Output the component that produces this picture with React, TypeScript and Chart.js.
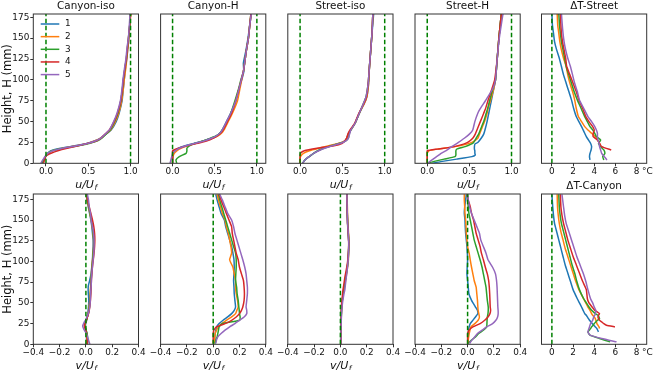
import React, { useEffect, useRef } from "react";
import { Chart, registerables } from "chart.js";

Chart.register(...registerables);

const FONT = '"DejaVu Sans", "Liberation Sans", sans-serif';
const SERIES = ["1", "2", "3", "4", "5"];
const COLORS = ["#1f77b4", "#ff7f0e", "#2ca02c", "#d62728", "#9467bd"];
const REF_COLOR = "#008000";

const Y_TICKS = [0, 25, 50, 75, 100, 125, 150, 175];
const U_TICKS = [0, 0.5, 1];
const V_TICKS = [-0.4, -0.2, 0, 0.2, 0.4];
const T_TICKS = [0, 2, 4, 6, 8];

// ---------- Canyon-iso, u/Uf ----------
const H_CI_U = [0, 3, 6, 9, 12, 15, 18, 21, 24, 27, 30, 35, 40, 50, 60, 75, 90, 100, 115, 125, 140, 150, 165, 180];
const CI_U1 = [-0.04, -0.03, -0.015, 0.0, 0.02, 0.06, 0.17, 0.34, 0.49, 0.58, 0.64, 0.71, 0.77, 0.83, 0.865, 0.9, 0.915, 0.925, 0.94, 0.955, 0.97, 0.98, 0.99, 1.0];
const CI_U2 = [-0.04, -0.03, -0.015, 0.0, 0.03, 0.08, 0.2, 0.36, 0.5, 0.58, 0.64, 0.705, 0.765, 0.82, 0.86, 0.895, 0.915, 0.925, 0.945, 0.955, 0.97, 0.98, 0.99, 1.005];
const CI_U3 = [-0.05, -0.03, -0.015, 0.0, 0.02, 0.07, 0.2, 0.38, 0.52, 0.61, 0.66, 0.71, 0.76, 0.81, 0.85, 0.885, 0.905, 0.915, 0.935, 0.95, 0.965, 0.975, 0.99, 1.0];
const CI_U4 = [-0.03, -0.02, -0.01, 0.0, 0.06, 0.14, 0.25, 0.38, 0.5, 0.6, 0.65, 0.7, 0.75, 0.805, 0.845, 0.885, 0.905, 0.915, 0.935, 0.95, 0.965, 0.975, 0.99, 1.0];
const CI_U5 = [-0.06, -0.045, -0.025, -0.005, 0.02, 0.08, 0.2, 0.36, 0.5, 0.59, 0.645, 0.7, 0.75, 0.8, 0.84, 0.88, 0.9, 0.91, 0.93, 0.945, 0.96, 0.975, 0.985, 0.995];

// ---------- Canyon-H, u/Uf ----------
const H_CH_U = [0, 4, 8, 12, 15, 18, 21, 24, 27, 30, 33, 36, 40, 50, 60, 75, 90, 100, 110, 120, 135, 150, 165, 180];
const CH_U1 = [0.0, 0.0, 0.005, 0.01, 0.03, 0.07, 0.15, 0.26, 0.37, 0.46, 0.52, 0.56, 0.59, 0.64, 0.69, 0.75, 0.79, 0.82, 0.845, 0.84, 0.87, 0.895, 0.915, 0.935];
const CH_U2 = [0.0, 0.0, 0.005, 0.02, 0.05, 0.1, 0.18, 0.28, 0.38, 0.47, 0.54, 0.58, 0.61, 0.66, 0.71, 0.77, 0.8, 0.82, 0.84, 0.855, 0.875, 0.9, 0.915, 0.935];
const CH_U3 = [0.05, 0.04, 0.08, 0.16, 0.17, 0.17, 0.2, 0.27, 0.37, 0.45, 0.52, 0.56, 0.59, 0.645, 0.69, 0.74, 0.785, 0.81, 0.84, 0.855, 0.875, 0.9, 0.915, 0.93];
const CH_U4 = [0.0, 0.0, 0.0, 0.0, 0.0, 0.07, 0.17, 0.3, 0.41, 0.48, 0.53, 0.57, 0.6, 0.65, 0.7, 0.75, 0.79, 0.815, 0.84, 0.855, 0.875, 0.9, 0.915, 0.93];
const CH_U5 = [-0.03, -0.02, -0.01, 0.0, 0.03, 0.08, 0.16, 0.27, 0.38, 0.46, 0.52, 0.56, 0.59, 0.64, 0.69, 0.75, 0.79, 0.815, 0.84, 0.855, 0.875, 0.9, 0.915, 0.935];

// ---------- Street-iso, u/Uf ----------
const H_SI_U = [0, 3, 6, 9, 12, 15, 18, 21, 24, 27, 30, 35, 40, 48, 60, 72, 80, 96, 116, 136, 156, 180];
const SI_U1 = [0.03, 0.05, 0.08, 0.12, 0.16, 0.21, 0.27, 0.36, 0.47, 0.53, 0.55, 0.57, 0.6, 0.65, 0.7, 0.76, 0.79, 0.81, 0.82, 0.835, 0.85, 0.87];
const SI_U2 = [0.0, 0.0, 0.0, 0.01, 0.04, 0.11, 0.22, 0.34, 0.46, 0.53, 0.55, 0.57, 0.6, 0.65, 0.7, 0.76, 0.79, 0.81, 0.82, 0.835, 0.85, 0.86];
const SI_U3 = [0.03, 0.05, 0.08, 0.12, 0.16, 0.21, 0.28, 0.37, 0.47, 0.54, 0.57, 0.58, 0.6, 0.65, 0.7, 0.75, 0.78, 0.805, 0.82, 0.835, 0.85, 0.86];
const SI_U4 = [0.0, 0.0, 0.0, 0.0, 0.005, 0.05, 0.2, 0.4, 0.5, 0.53, 0.55, 0.565, 0.59, 0.645, 0.695, 0.755, 0.785, 0.805, 0.82, 0.835, 0.85, 0.86];
const SI_U5 = [0.03, 0.05, 0.08, 0.12, 0.16, 0.22, 0.29, 0.38, 0.48, 0.54, 0.57, 0.585, 0.6, 0.65, 0.7, 0.75, 0.78, 0.805, 0.82, 0.835, 0.85, 0.86];

// ---------- Street-H, u/Uf ----------
const H_SH_U = [0, 2, 5, 8, 10, 12, 15, 17, 20, 23, 25, 30, 35, 40, 50, 60, 65, 75, 90, 100, 125, 150, 180];
const SH_U1 = [0.06, 0.16, 0.35, 0.53, 0.57, 0.565, 0.565, 0.56, 0.56, 0.565, 0.6, 0.64, 0.67, 0.685, 0.71, 0.73, 0.74, 0.76, 0.79, 0.81, 0.83, 0.85, 0.88];
const SH_U2 = [0.0, 0.0, 0.0, 0.0, 0.0, 0.0, 0.02, 0.12, 0.33, 0.47, 0.53, 0.6, 0.62, 0.64, 0.68, 0.71, 0.72, 0.75, 0.79, 0.81, 0.83, 0.85, 0.88];
const SH_U3 = [0.0, 0.07, 0.2, 0.33, 0.34, 0.34, 0.34, 0.35, 0.45, 0.52, 0.55, 0.58, 0.61, 0.63, 0.67, 0.7, 0.715, 0.74, 0.78, 0.81, 0.83, 0.85, 0.88];
const SH_U4 = [0.0, 0.0, 0.0, 0.0, 0.0, 0.0, 0.0, 0.12, 0.32, 0.43, 0.48, 0.54, 0.57, 0.59, 0.63, 0.67, 0.69, 0.72, 0.77, 0.8, 0.83, 0.85, 0.88];
const SH_U5 = [0.0, 0.03, 0.07, 0.11, 0.14, 0.165, 0.22, 0.25, 0.29, 0.34, 0.37, 0.44, 0.5, 0.54, 0.565, 0.6, 0.625, 0.69, 0.78, 0.81, 0.83, 0.855, 0.9];

// ---------- ΔT-Street (°C) ----------
const H_DT_S = [4, 8, 12, 16, 20, 24, 28, 32, 36, 40, 44, 50, 56, 66, 76, 86, 96, 106, 116, 126, 136, 146, 156, 166, 180];
const DTS_1 = [3.6, 3.55, 3.6, 3.7, 3.75, 3.65, 3.45, 3.25, 3.1, 2.95, 2.8, 2.55, 2.3, 2.05, 1.85, 1.6, 1.35, 1.1, 0.9, 0.7, 0.45, 0.25, 0.15, 0.05, 0.0];
const DTS_2 = [null, null, null, null, 4.6, 4.5, 4.3, 4.1, 3.75, 3.4, 3.1, 2.8, 2.5, 2.3, 2.15, 1.95, 1.7, 1.5, 1.35, 1.1, 0.9, 0.75, 0.65, 0.55, 0.5];
const DTS_3 = [4.9, 4.8, 5.0, 4.9, 4.6, 4.4, 4.6, 4.2, 4.05, 3.85, 3.6, 3.35, 3.1, 2.75, 2.4, 2.1, 1.85, 1.6, 1.35, 1.2, 1.05, 0.9, 0.8, 0.72, 0.65];
const DTS_4 = [null, null, null, 5.6, 4.7, 4.5, 4.3, 3.9, 3.9, 4.0, 3.85, 3.5, 3.2, 2.9, 2.55, 2.3, 2.0, 1.7, 1.4, 1.3, 1.15, 1.0, 0.9, 0.85, 0.8];
const DTS_5 = [5.2, 4.95, 4.7, 4.6, 4.5, 4.45, 4.35, 4.3, 4.3, 4.2, 4.05, 3.75, 3.4, 3.0, 2.6, 2.4, 2.15, 1.95, 1.75, 1.5, 1.3, 1.15, 1.05, 0.98, 0.9];

// ---------- Canyon-iso, v/Uf ----------
const H_CI_V = [0, 5, 10, 14, 18, 22, 26, 30, 38, 46, 54, 62, 70, 78, 86, 94, 102, 110, 118, 126, 134, 142, 150, 158, 166, 174, 182];
const CI_V1 = [0.005, 0.005, 0.005, 0.005, 0.0, -0.005, 0.0, 0.008, 0.015, 0.02, 0.022, 0.018, 0.018, 0.03, 0.04, 0.045, 0.05, 0.052, 0.055, 0.055, 0.05, 0.045, 0.038, 0.028, 0.018, 0.008, 0.003];
const CI_V2 = [0.008, 0.008, 0.006, 0.004, 0.0, -0.008, -0.003, 0.006, 0.018, 0.025, 0.03, 0.032, 0.036, 0.04, 0.042, 0.046, 0.05, 0.055, 0.058, 0.058, 0.054, 0.048, 0.04, 0.03, 0.02, 0.01, 0.005];
const CI_V3 = [0.012, 0.015, 0.012, 0.008, 0.0, -0.01, -0.005, 0.005, 0.02, 0.028, 0.032, 0.035, 0.038, 0.04, 0.043, 0.047, 0.052, 0.056, 0.06, 0.06, 0.055, 0.05, 0.042, 0.032, 0.022, 0.012, 0.006];
const CI_V4 = [0.01, 0.01, 0.008, 0.004, -0.004, -0.012, -0.006, 0.005, 0.022, 0.03, 0.035, 0.038, 0.04, 0.042, 0.046, 0.05, 0.056, 0.062, 0.066, 0.068, 0.066, 0.06, 0.05, 0.038, 0.025, 0.013, 0.006];
const CI_V5 = [0.03, 0.02, 0.01, 0.0, -0.015, -0.025, -0.015, 0.0, 0.02, 0.03, 0.034, 0.036, 0.04, 0.042, 0.045, 0.05, 0.055, 0.06, 0.062, 0.062, 0.058, 0.05, 0.04, 0.035, 0.025, 0.02, 0.01];

// ---------- Canyon-H, v/Uf ----------
const H_CH_V = [1, 5, 9, 13, 17, 21, 25, 29, 33, 37, 41, 45, 53, 61, 69, 77, 85, 93, 102, 110, 118, 126, 134, 142, 150, 158, 166, 174, 181];
const CH_V1 = [0.0125, 0.0125, 0.0125, 0.015, 0.02, 0.025, 0.045, 0.075, 0.11, 0.14, 0.16, 0.17, 0.165, 0.16, 0.158, 0.155, 0.158, 0.16, 0.158, 0.15, 0.14, 0.125, 0.11, 0.095, 0.085, 0.06, 0.045, 0.03, 0.02];
const CH_V2 = [0.008, 0.01, 0.012, 0.015, 0.025, 0.04, 0.065, 0.1, 0.14, 0.17, 0.18, 0.19, 0.185, 0.175, 0.17, 0.17, 0.16, 0.15, 0.125, 0.14, 0.135, 0.125, 0.115, 0.1, 0.09, 0.07, 0.055, 0.04, 0.03];
const CH_V3 = [0.0125, 0.02, 0.03, 0.035, 0.04, 0.045, 0.07, 0.2, 0.205, 0.2, 0.198, 0.195, 0.19, 0.182, 0.178, 0.17, 0.172, 0.175, 0.175, 0.17, 0.155, 0.14, 0.125, 0.11, 0.095, 0.08, 0.065, 0.05, 0.04];
const CH_V4 = [0.0, 0.0, 0.0, 0.0, 0.005, 0.025, 0.09, 0.14, 0.175, 0.2, 0.215, 0.225, 0.235, 0.2375, 0.235, 0.23, 0.215, 0.2, 0.19, 0.175, 0.165, 0.155, 0.145, 0.14, 0.12, 0.1, 0.08, 0.06, 0.045];
const CH_V5 = [0.02, 0.025, 0.035, 0.06, 0.09, 0.125, 0.165, 0.2, 0.235, 0.255, 0.255, 0.25, 0.255, 0.26, 0.26, 0.255, 0.25, 0.24, 0.225, 0.21, 0.195, 0.18, 0.165, 0.155, 0.14, 0.11, 0.09, 0.07, 0.05];

// ---------- Street-iso, v/Uf ----------
const H_SI_V = [0, 10, 20, 30, 40, 50, 60, 66, 72, 80, 90, 100, 110, 122, 134, 146, 160, 172, 182];
const SI_V1 = [0.003, 0.003, 0.004, 0.006, 0.008, 0.012, 0.02, 0.026, 0.033, 0.04, 0.05, 0.058, 0.062, 0.064, 0.06, 0.055, 0.052, 0.05, 0.05];
const SI_V2 = [0.005, 0.005, 0.005, 0.006, 0.009, 0.013, 0.021, 0.027, 0.034, 0.042, 0.052, 0.06, 0.063, 0.066, 0.062, 0.057, 0.054, 0.052, 0.052];
const SI_V3 = [0.002, 0.002, 0.003, 0.005, 0.008, 0.012, 0.02, 0.025, 0.032, 0.04, 0.05, 0.057, 0.061, 0.064, 0.06, 0.055, 0.052, 0.05, 0.05];
const SI_V4 = [0.005, 0.004, 0.004, 0.005, 0.006, 0.01, 0.016, 0.02, 0.026, 0.033, 0.045, 0.055, 0.06, 0.063, 0.059, 0.054, 0.051, 0.049, 0.049];
const SI_V5 = [0.004, 0.004, 0.005, 0.007, 0.01, 0.016, 0.026, 0.034, 0.038, 0.044, 0.052, 0.058, 0.062, 0.064, 0.06, 0.055, 0.052, 0.05, 0.05];

// ---------- Street-H, v/Uf ----------
const H_SH_V = [1, 5, 9, 13, 17, 21, 25, 29, 33, 37, 41, 45, 53, 61, 69, 77, 85, 93, 102, 110, 118, 126, 134, 142, 150, 158, 166, 174, 181];
const SH_V1 = [0.003, 0.004, 0.005, 0.006, 0.008, 0.012, 0.02, 0.04, 0.06, 0.078, 0.075, 0.06, 0.03, 0.01, 0.005, 0.0, -0.005, -0.003, 0.0, -0.002, -0.005, -0.01, -0.015, -0.018, -0.02, -0.025, -0.022, -0.015, -0.01];
const SH_V2 = [0.003, 0.005, 0.008, 0.012, 0.018, 0.025, 0.055, 0.08, 0.09, 0.085, 0.08, 0.078, 0.075, 0.07, 0.065, 0.05, 0.04, 0.03, 0.02, 0.012, 0.0, -0.005, -0.01, -0.012, -0.015, -0.02, -0.022, -0.025, -0.025];
const SH_V3 = [0.005, 0.03, 0.06, 0.085, 0.12, 0.145, 0.147, 0.148, 0.15, 0.155, 0.157, 0.157, 0.15, 0.145, 0.14, 0.13, 0.12, 0.11, 0.095, 0.08, 0.065, 0.05, 0.04, 0.03, 0.02, 0.01, 0.005, 0.0, 0.0];
const SH_V4 = [0.0, 0.0, 0.0, 0.0, 0.01, 0.04, 0.095, 0.13, 0.155, 0.17, 0.175, 0.172, 0.17, 0.168, 0.165, 0.16, 0.15, 0.135, 0.12, 0.105, 0.095, 0.08, 0.065, 0.055, 0.045, 0.03, 0.02, 0.005, -0.005];
const SH_V5 = [0.015, 0.0325, 0.055, 0.075, 0.11, 0.145, 0.19, 0.215, 0.228, 0.2325, 0.232, 0.23, 0.228, 0.226, 0.224, 0.22, 0.212, 0.19, 0.155, 0.14, 0.12, 0.1, 0.09, 0.07, 0.05, 0.03, 0.015, 0.005, 0.0];

// ---------- ΔT-Canyon (°C) ----------
const H_DT_C = [3, 7, 11, 15, 19, 21, 23, 25, 27, 29, 31, 33, 35, 37, 41, 45, 50, 55, 66, 76, 86, 96, 106, 116, 126, 136, 146, 156, 166, 181];
const DTC_1 = [null, null, null, 4.4, 4.25, 4.1, 3.95, 3.8, 3.7, 3.55, 3.45, 3.35, 3.25, 3.1, 2.95, 2.8, 2.6, 2.4, 2.0, 1.75, 1.5, 1.25, 1.05, 0.85, 0.65, 0.45, 0.25, 0.15, 0.08, 0.0];
const DTC_2 = [null, null, null, null, 4.5, 4.45, 4.35, 4.25, 4.2, 4.15, 4.1, 4.0, 3.85, 3.75, 3.6, 3.4, 3.2, 3.0, 2.55, 2.25, 2.0, 1.75, 1.5, 1.25, 1.05, 0.85, 0.7, 0.6, 0.53, 0.5];
const DTC_3 = [5.5, 4.5, 3.6, 3.4, 3.65, 3.75, 3.9, 4.0, 4.15, 4.3, 4.5, 4.45, 4.35, 4.1, 3.75, 3.5, 3.25, 3.0, 2.6, 2.35, 2.15, 1.9, 1.7, 1.5, 1.3, 1.1, 0.9, 0.78, 0.7, 0.65];
const DTC_4 = [null, null, null, null, null, 5.95, 5.15, 4.9, 4.7, 4.5, 4.4, 4.35, 4.4, 4.5, 4.05, 3.8, 3.5, 3.35, 3.25, 2.9, 2.6, 2.3, 2.0, 1.75, 1.5, 1.3, 1.1, 0.95, 0.85, 0.8];
const DTC_5 = [6.1, 4.7, 3.6, 3.4, 3.5, 3.55, 3.6, 3.65, 3.75, 3.85, 3.9, 3.95, 4.05, 4.1, 4.15, 4.0, 3.85, 3.65, 3.4, 3.2, 2.95, 2.65, 2.35, 2.1, 1.85, 1.6, 1.35, 1.2, 1.1, 0.95];

// ---------- layout ----------
const FRAME_LEFT = [33.3, 160.6, 287.8, 415.0, 541.5];
const FRAME_W = 105.2;
const CANVAS_LEFT = [0, 127, 255, 382, 508];
const CANVAS_W = [152, 152, 152, 152, 146];
const ROW_TOP = [0, 180];
const FRAME_TOP = [14, 194];
const FRAME_H = [149.3, 150.3];
const CANVAS_H = 190;
const Y_MAX = [179, 181.4];

const TICK_FS = 8.9;
const TITLE_FS = 10.4;
const YLABEL_FS = 11.5;
const XLABEL_FS = 11;

type PanelDef = {
  row: number;
  col: number;
  title: string;
  heights: number[];
  series: (number | null)[][];
  xRange: [number, number];
  xTicks: number[];
  fmt: "u" | "v" | "t";
  refs: number[];
  xVar?: string;
  unit?: boolean;
  legend?: boolean;
};

const PANELS: PanelDef[] = [
  { row: 0, col: 0, title: "Canyon-iso", heights: H_CI_U, series: [CI_U1, CI_U2, CI_U3, CI_U4, CI_U5], xRange: [-0.15, 1.094], xTicks: U_TICKS, fmt: "u", refs: [0, 1], xVar: "u", legend: true },
  { row: 0, col: 1, title: "Canyon-H", heights: H_CH_U, series: [CH_U1, CH_U2, CH_U3, CH_U4, CH_U5], xRange: [-0.142, 1.106], xTicks: U_TICKS, fmt: "u", refs: [0, 1], xVar: "u" },
  { row: 0, col: 2, title: "Street-iso", heights: H_SI_U, series: [SI_U1, SI_U2, SI_U3, SI_U4, SI_U5], xRange: [-0.145, 1.098], xTicks: U_TICKS, fmt: "u", refs: [0, 1], xVar: "u" },
  { row: 0, col: 3, title: "Street-H", heights: H_SH_U, series: [SH_U1, SH_U2, SH_U3, SH_U4, SH_U5], xRange: [-0.145, 1.103], xTicks: U_TICKS, fmt: "u", refs: [0, 1], xVar: "u" },
  { row: 0, col: 4, title: "ΔT-Street", heights: H_DT_S, series: [DTS_1, DTS_2, DTS_3, DTS_4, DTS_5], xRange: [-0.98, 8.95], xTicks: T_TICKS, fmt: "t", refs: [0], unit: true },
  { row: 1, col: 0, title: "", heights: H_CI_V, series: [CI_V1, CI_V2, CI_V3, CI_V4, CI_V5], xRange: [-0.4, 0.4], xTicks: V_TICKS, fmt: "v", refs: [0], xVar: "v" },
  { row: 1, col: 1, title: "", heights: H_CH_V, series: [CH_V1, CH_V2, CH_V3, CH_V4, CH_V5], xRange: [-0.4, 0.4], xTicks: V_TICKS, fmt: "v", refs: [0], xVar: "v" },
  { row: 1, col: 2, title: "", heights: H_SI_V, series: [SI_V1, SI_V2, SI_V3, SI_V4, SI_V5], xRange: [-0.4, 0.4], xTicks: V_TICKS, fmt: "v", refs: [0], xVar: "v" },
  { row: 1, col: 3, title: "", heights: H_SH_V, series: [SH_V1, SH_V2, SH_V3, SH_V4, SH_V5], xRange: [-0.4, 0.4], xTicks: V_TICKS, fmt: "v", refs: [0], xVar: "v" },
  { row: 1, col: 4, title: "ΔT-Canyon", heights: H_DT_C, series: [DTC_1, DTC_2, DTC_3, DTC_4, DTC_5], xRange: [-0.98, 8.95], xTicks: T_TICKS, fmt: "t", refs: [0], unit: true },
];

function fmtTick(fmt: string, v: number): string {
  if (fmt === "t") return String(Math.round(v));
  const s = Math.abs(v).toFixed(1);
  return v < -1e-9 ? "\u2212" + s : s;
}

function PanelChart({ p }: { p: PanelDef }) {
  const ref = useRef<HTMLCanvasElement>(null);
  const cLeft = CANVAS_LEFT[p.col];
  const cTop = ROW_TOP[p.row];
  const cW = CANVAS_W[p.col];
  const padLeft = FRAME_LEFT[p.col] - cLeft;
  const padRight = cW - padLeft - FRAME_W;
  const titleH = FRAME_TOP[p.row] - cTop;
  const bottomH = CANVAS_H - titleH - FRAME_H[p.row];
  const showY = p.col === 0;

  useEffect(() => {
    if (!ref.current) return;
    const datasets: any[] = p.series.map((vals, si) => ({
      label: SERIES[si],
      data: p.heights
        .map((h, i) => (vals[i] == null ? null : { x: vals[i] as number, y: h }))
        .filter((d) => d !== null),
      borderColor: COLORS[si],
      backgroundColor: COLORS[si],
      borderWidth: 1.5,
      pointRadius: 0,
      tension: 0.15,
      fill: false,
      order: 4 - si,
    }));
    p.refs.forEach((r) => {
      datasets.push({
        label: "",
        data: [
          { x: r, y: 0 },
          { x: r, y: 200 },
        ],
        borderColor: REF_COLOR,
        borderWidth: 1.5,
        borderDash: [4.5, 2.5],
        pointRadius: 0,
        tension: 0,
        fill: false,
        order: -1,
      });
    });

    const decor = {
      id: "decor" + p.row + p.col,
      afterDraw(chart: any) {
        const { ctx, chartArea: a } = chart;
        ctx.save();
        ctx.strokeStyle = "#333";
        ctx.lineWidth = 1;
        ctx.strokeRect(a.left, a.top, a.right - a.left, a.bottom - a.top);
        ctx.fillStyle = "#111";
        if (p.xVar) {
          const main = p.xVar + "/U";
          const subFs = XLABEL_FS * 0.7;
          ctx.font = `italic ${XLABEL_FS}px ${FONT}`;
          const w1 = ctx.measureText(main).width;
          ctx.font = `italic ${subFs}px ${FONT}`;
          const w2 = ctx.measureText("f").width;
          const cx = (a.left + a.right) / 2;
          const x0 = cx - (w1 + w2) / 2;
          const by = a.bottom + 20.5 + XLABEL_FS * 0.36;
          ctx.textBaseline = "alphabetic";
          ctx.textAlign = "left";
          ctx.font = `italic ${XLABEL_FS}px ${FONT}`;
          ctx.fillText(main, x0, by);
          ctx.font = `italic ${subFs}px ${FONT}`;
          ctx.fillText("f", x0 + w1 + 0.5, by + XLABEL_FS * 0.18);
        }
        if (p.unit) {
          ctx.font = `${TICK_FS}px ${FONT}`;
          ctx.textAlign = "left";
          ctx.textBaseline = "middle";
          ctx.fillText("\u00b0C", a.right - 4.7, a.bottom + 3 + TICK_FS * 0.6);
        }
        if (p.legend) {
          ctx.font = `${TICK_FS}px ${FONT}`;
          ctx.textAlign = "left";
          ctx.textBaseline = "middle";
          SERIES.forEach((lab, i) => {
            const y = a.top + 10 + i * 12.65;
            ctx.strokeStyle = COLORS[i];
            ctx.lineWidth = 1.5;
            ctx.beginPath();
            ctx.moveTo(a.left + 7.4, y);
            ctx.lineTo(a.left + 26, y);
            ctx.stroke();
            ctx.fillStyle = "#111";
            ctx.fillText(lab, a.left + 31.7, y);
          });
        }
        ctx.restore();
      },
    };

    const tickFont = { family: FONT, size: TICK_FS };
    const chart = new Chart(ref.current, {
      type: "line",
      data: { datasets },
      options: {
        animation: false,
        responsive: false,
        maintainAspectRatio: false,
        devicePixelRatio: 1,
        events: [],
        layout: {
          padding: { left: showY ? 0 : padLeft, right: padRight, top: 0, bottom: 0 },
        },
        plugins: {
          legend: { display: false },
          tooltip: { enabled: false },
          title: {
            display: true,
            fullSize: false,
            align: "center",
            text: p.title || " ",
            color: "#111",
            font: { family: FONT, size: TITLE_FS, weight: "normal", lineHeight: 1.2 },
            padding: { top: 0.5, bottom: titleH - TITLE_FS * 1.2 - 0.5 },
          },
        },
        scales: {
          x: {
            type: "linear",
            min: p.xRange[0],
            max: p.xRange[1],
            afterFit: (s: any) => {
              s.height = bottomH;
            },
            afterBuildTicks: (s: any) => {
              s.ticks = p.xTicks.map((v) => ({ value: v }));
            },
            ticks: {
              font: tickFont,
              color: "#111",
              padding: 0,
              maxRotation: 0,
              autoSkip: false,
              callback: (v: any) => fmtTick(p.fmt, Number(v)),
            },
            grid: { display: true, drawOnChartArea: false, drawTicks: true, tickLength: 3, color: "#333", lineWidth: 1 },
            border: { display: false },
          },
          y: {
            type: "linear",
            min: 0,
            max: Y_MAX[p.row],
            display: showY,
            afterFit: (s: any) => {
              s.width = showY ? padLeft : 0;
            },
            afterBuildTicks: (s: any) => {
              s.ticks = Y_TICKS.map((v) => ({ value: v }));
            },
            ticks: {
              font: tickFont,
              color: "#111",
              padding: 1,
              autoSkip: false,
              callback: (v: any) => String(v),
            },
            grid: { display: true, drawOnChartArea: false, drawTicks: true, tickLength: 3, color: "#333", lineWidth: 1 },
            border: { display: false },
            title: {
              display: true,
              text: "Height, H (mm)",
              color: "#111",
              font: { family: FONT, size: YLABEL_FS, lineHeight: 1.2 },
              padding: { top: 1.5, bottom: 0 },
            },
          },
        },
      },
      plugins: [decor],
    } as any);
    return () => chart.destroy();
  }, []);

  return (
    <canvas
      ref={ref}
      width={cW}
      height={CANVAS_H}
      style={{ position: "absolute", left: cLeft, top: cTop, width: cW, height: CANVAS_H }}
    />
  );
}

export default function App() {
  return (
    <div
      style={{
        position: "fixed",
        left: 0,
        top: 0,
        width: 654,
        height: 370,
        background: "#ffffff",
        overflow: "hidden",
      }}
    >
      {PANELS.map((p) => (
        <PanelChart key={`${p.row}-${p.col}`} p={p} />
      ))}
    </div>
  );
}
